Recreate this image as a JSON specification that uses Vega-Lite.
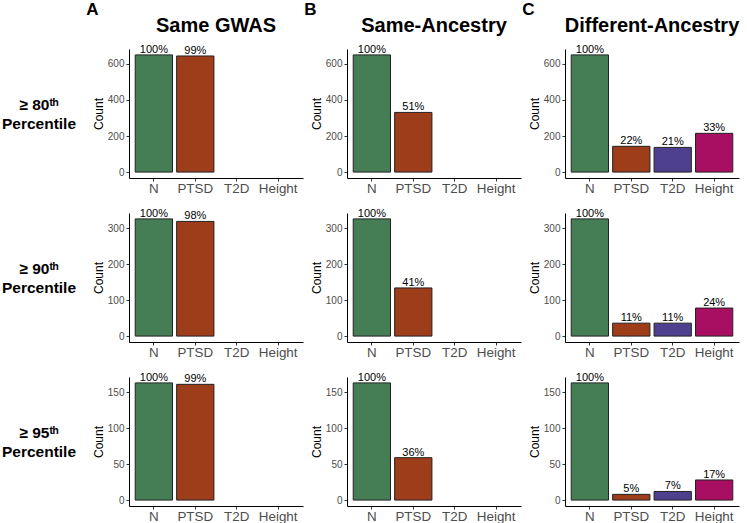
{
  "$schema": "https://vega.github.io/schema/vega-lite/v6.json",
  "padding": 0,
  "background": "white",
  "data": {"values": [
    {"row": "80", "col": "A", "trait": "N", "count": 650, "label": "100%"},
    {"row": "80", "col": "A", "trait": "PTSD", "count": 644, "label": "99%"},
    {"row": "80", "col": "B", "trait": "N", "count": 650, "label": "100%"},
    {"row": "80", "col": "B", "trait": "PTSD", "count": 331, "label": "51%"},
    {"row": "80", "col": "C", "trait": "N", "count": 650, "label": "100%"},
    {"row": "80", "col": "C", "trait": "PTSD", "count": 143, "label": "22%"},
    {"row": "80", "col": "C", "trait": "T2D", "count": 137, "label": "21%"},
    {"row": "80", "col": "C", "trait": "Height", "count": 215, "label": "33%"},
    {"row": "90", "col": "A", "trait": "N", "count": 326, "label": "100%"},
    {"row": "90", "col": "A", "trait": "PTSD", "count": 319, "label": "98%"},
    {"row": "90", "col": "B", "trait": "N", "count": 326, "label": "100%"},
    {"row": "90", "col": "B", "trait": "PTSD", "count": 134, "label": "41%"},
    {"row": "90", "col": "C", "trait": "N", "count": 326, "label": "100%"},
    {"row": "90", "col": "C", "trait": "PTSD", "count": 36, "label": "11%"},
    {"row": "90", "col": "C", "trait": "T2D", "count": 36, "label": "11%"},
    {"row": "90", "col": "C", "trait": "Height", "count": 78, "label": "24%"},
    {"row": "95", "col": "A", "trait": "N", "count": 163, "label": "100%"},
    {"row": "95", "col": "A", "trait": "PTSD", "count": 161, "label": "99%"},
    {"row": "95", "col": "B", "trait": "N", "count": 163, "label": "100%"},
    {"row": "95", "col": "B", "trait": "PTSD", "count": 59, "label": "36%"},
    {"row": "95", "col": "C", "trait": "N", "count": 163, "label": "100%"},
    {"row": "95", "col": "C", "trait": "PTSD", "count": 8, "label": "5%"},
    {"row": "95", "col": "C", "trait": "T2D", "count": 12, "label": "7%"},
    {"row": "95", "col": "C", "trait": "Height", "count": 28, "label": "17%"}
  ]},
  "resolve": {"scale": {"x": "independent", "y": "independent"}},
  "spacing": 8,
  "hconcat": [
    {
      "title": {"text": " ", "anchor": "start", "fontSize": 17, "fontWeight": "bold", "offset": -3},
      "spacing": 35,
      "vconcat": [
        {"title": {"text": " ", "fontSize": 20, "fontWeight": "bold", "offset": -4},
         "width": 78, "height": 129, "data": {"values": [{"t": "≥ 80ᵗʰ\nPercentile"}]},
         "mark": {"type": "text", "fontSize": 15.5, "fontWeight": "bold", "lineHeight": 19, "baseline": "middle", "lineBreak": "\n", "dy": -9, "color": "black"},
         "encoding": {"text": {"field": "t"}}},
        {"width": 78, "height": 129, "data": {"values": [{"t": "≥ 90ᵗʰ\nPercentile"}]},
         "mark": {"type": "text", "fontSize": 15.5, "fontWeight": "bold", "lineHeight": 19, "baseline": "middle", "lineBreak": "\n", "dy": -9, "color": "black"},
         "encoding": {"text": {"field": "t"}}},
        {"width": 78, "height": 129, "data": {"values": [{"t": "≥ 95ᵗʰ\nPercentile"}]},
         "mark": {"type": "text", "fontSize": 15.5, "fontWeight": "bold", "lineHeight": 19, "baseline": "middle", "lineBreak": "\n", "dy": -9, "color": "black"},
         "encoding": {"text": {"field": "t"}}}
      ]
    },
    {
      "spacing": 1,
      "resolve": {"scale": {"x": "independent", "y": "independent"}},
      "hconcat": [
        {
          "title": {"text": "A", "anchor": "start", "fontSize": 17, "fontWeight": "bold", "offset": -3, "dx": -6},
          "spacing": 12,
          "resolve": {"scale": {"x": "independent", "y": "independent"}},
          "vconcat": [
            {"title": {"text": "Same GWAS", "fontSize": 20, "fontWeight": "bold", "offset": 8, "frame": "group"},
             "width": 174, "height": 129,
             "transform": [{"filter": "datum.row == '80' && datum.col == 'A'"}],
             "encoding": {
               "x": {"field": "trait", "type": "nominal", "scale": {"domain": ["N", "PTSD", "T2D", "Height"], "paddingInner": 0.1, "paddingOuter": 0.15}, "axis": {"title": null, "labelAngle": 0}},
               "y": {"field": "count", "type": "quantitative", "scale": {"padding": 5.9, "nice": false, "zero": true}, "axis": {"title": "Count", "tickCount": 4}}
             },
             "layer": [
               {"mark": {"type": "bar", "stroke": "#222222", "strokeWidth": 1},
                "encoding": {"color": {"field": "trait", "type": "nominal", "scale": {"domain": ["N", "PTSD", "T2D", "Height"], "range": ["#457D54", "#9E3D1A", "#4E3F8F", "#A80E61"]}, "legend": null}}},
               {"mark": {"type": "text", "baseline": "alphabetic", "dy": -2, "fontSize": 11, "color": "black"},
                "encoding": {"text": {"field": "label"}}}
             ]},
            {"width": 174, "height": 129,
             "transform": [{"filter": "datum.row == '90' && datum.col == 'A'"}],
             "encoding": {
               "x": {"field": "trait", "type": "nominal", "scale": {"domain": ["N", "PTSD", "T2D", "Height"], "paddingInner": 0.1, "paddingOuter": 0.15}, "axis": {"title": null, "labelAngle": 0}},
               "y": {"field": "count", "type": "quantitative", "scale": {"padding": 5.9, "nice": false, "zero": true}, "axis": {"title": "Count", "tickCount": 4}}
             },
             "layer": [
               {"mark": {"type": "bar", "stroke": "#222222", "strokeWidth": 1},
                "encoding": {"color": {"field": "trait", "type": "nominal", "scale": {"domain": ["N", "PTSD", "T2D", "Height"], "range": ["#457D54", "#9E3D1A", "#4E3F8F", "#A80E61"]}, "legend": null}}},
               {"mark": {"type": "text", "baseline": "alphabetic", "dy": -2, "fontSize": 11, "color": "black"},
                "encoding": {"text": {"field": "label"}}}
             ]},
            {"width": 174, "height": 129,
             "transform": [{"filter": "datum.row == '95' && datum.col == 'A'"}],
             "encoding": {
               "x": {"field": "trait", "type": "nominal", "scale": {"domain": ["N", "PTSD", "T2D", "Height"], "paddingInner": 0.1, "paddingOuter": 0.15}, "axis": {"title": null, "labelAngle": 0}},
               "y": {"field": "count", "type": "quantitative", "scale": {"padding": 5.9, "nice": false, "zero": true}, "axis": {"title": "Count", "tickCount": 4}}
             },
             "layer": [
               {"mark": {"type": "bar", "stroke": "#222222", "strokeWidth": 1},
                "encoding": {"color": {"field": "trait", "type": "nominal", "scale": {"domain": ["N", "PTSD", "T2D", "Height"], "range": ["#457D54", "#9E3D1A", "#4E3F8F", "#A80E61"]}, "legend": null}}},
               {"mark": {"type": "text", "baseline": "alphabetic", "dy": -2, "fontSize": 11, "color": "black"},
                "encoding": {"text": {"field": "label"}}}
             ]}
          ]
        },
        {
          "title": {"text": "B", "anchor": "start", "fontSize": 17, "fontWeight": "bold", "offset": -3, "dx": -6},
          "spacing": 12,
          "resolve": {"scale": {"x": "independent", "y": "independent"}},
          "vconcat": [
            {"title": {"text": "Same-Ancestry", "fontSize": 20, "fontWeight": "bold", "offset": 8, "frame": "group"},
             "width": 174, "height": 129,
             "transform": [{"filter": "datum.row == '80' && datum.col == 'B'"}],
             "encoding": {
               "x": {"field": "trait", "type": "nominal", "scale": {"domain": ["N", "PTSD", "T2D", "Height"], "paddingInner": 0.1, "paddingOuter": 0.15}, "axis": {"title": null, "labelAngle": 0}},
               "y": {"field": "count", "type": "quantitative", "scale": {"padding": 5.9, "nice": false, "zero": true}, "axis": {"title": "Count", "tickCount": 4}}
             },
             "layer": [
               {"mark": {"type": "bar", "stroke": "#222222", "strokeWidth": 1},
                "encoding": {"color": {"field": "trait", "type": "nominal", "scale": {"domain": ["N", "PTSD", "T2D", "Height"], "range": ["#457D54", "#9E3D1A", "#4E3F8F", "#A80E61"]}, "legend": null}}},
               {"mark": {"type": "text", "baseline": "alphabetic", "dy": -2, "fontSize": 11, "color": "black"},
                "encoding": {"text": {"field": "label"}}}
             ]},
            {"width": 174, "height": 129,
             "transform": [{"filter": "datum.row == '90' && datum.col == 'B'"}],
             "encoding": {
               "x": {"field": "trait", "type": "nominal", "scale": {"domain": ["N", "PTSD", "T2D", "Height"], "paddingInner": 0.1, "paddingOuter": 0.15}, "axis": {"title": null, "labelAngle": 0}},
               "y": {"field": "count", "type": "quantitative", "scale": {"padding": 5.9, "nice": false, "zero": true}, "axis": {"title": "Count", "tickCount": 4}}
             },
             "layer": [
               {"mark": {"type": "bar", "stroke": "#222222", "strokeWidth": 1},
                "encoding": {"color": {"field": "trait", "type": "nominal", "scale": {"domain": ["N", "PTSD", "T2D", "Height"], "range": ["#457D54", "#9E3D1A", "#4E3F8F", "#A80E61"]}, "legend": null}}},
               {"mark": {"type": "text", "baseline": "alphabetic", "dy": -2, "fontSize": 11, "color": "black"},
                "encoding": {"text": {"field": "label"}}}
             ]},
            {"width": 174, "height": 129,
             "transform": [{"filter": "datum.row == '95' && datum.col == 'B'"}],
             "encoding": {
               "x": {"field": "trait", "type": "nominal", "scale": {"domain": ["N", "PTSD", "T2D", "Height"], "paddingInner": 0.1, "paddingOuter": 0.15}, "axis": {"title": null, "labelAngle": 0}},
               "y": {"field": "count", "type": "quantitative", "scale": {"padding": 5.9, "nice": false, "zero": true}, "axis": {"title": "Count", "tickCount": 4}}
             },
             "layer": [
               {"mark": {"type": "bar", "stroke": "#222222", "strokeWidth": 1},
                "encoding": {"color": {"field": "trait", "type": "nominal", "scale": {"domain": ["N", "PTSD", "T2D", "Height"], "range": ["#457D54", "#9E3D1A", "#4E3F8F", "#A80E61"]}, "legend": null}}},
               {"mark": {"type": "text", "baseline": "alphabetic", "dy": -2, "fontSize": 11, "color": "black"},
                "encoding": {"text": {"field": "label"}}}
             ]}
          ]
        },
        {
          "title": {"text": "C", "anchor": "start", "fontSize": 17, "fontWeight": "bold", "offset": -3, "dx": -6},
          "spacing": 12,
          "resolve": {"scale": {"x": "independent", "y": "independent"}},
          "vconcat": [
            {"title": {"text": "Different-Ancestry", "fontSize": 20, "fontWeight": "bold", "offset": 8, "frame": "group"},
             "width": 174, "height": 129,
             "transform": [{"filter": "datum.row == '80' && datum.col == 'C'"}],
             "encoding": {
               "x": {"field": "trait", "type": "nominal", "scale": {"domain": ["N", "PTSD", "T2D", "Height"], "paddingInner": 0.1, "paddingOuter": 0.15}, "axis": {"title": null, "labelAngle": 0}},
               "y": {"field": "count", "type": "quantitative", "scale": {"padding": 5.9, "nice": false, "zero": true}, "axis": {"title": "Count", "tickCount": 4}}
             },
             "layer": [
               {"mark": {"type": "bar", "stroke": "#222222", "strokeWidth": 1},
                "encoding": {"color": {"field": "trait", "type": "nominal", "scale": {"domain": ["N", "PTSD", "T2D", "Height"], "range": ["#457D54", "#9E3D1A", "#4E3F8F", "#A80E61"]}, "legend": null}}},
               {"mark": {"type": "text", "baseline": "alphabetic", "dy": -2, "fontSize": 11, "color": "black"},
                "encoding": {"text": {"field": "label"}}}
             ]},
            {"width": 174, "height": 129,
             "transform": [{"filter": "datum.row == '90' && datum.col == 'C'"}],
             "encoding": {
               "x": {"field": "trait", "type": "nominal", "scale": {"domain": ["N", "PTSD", "T2D", "Height"], "paddingInner": 0.1, "paddingOuter": 0.15}, "axis": {"title": null, "labelAngle": 0}},
               "y": {"field": "count", "type": "quantitative", "scale": {"padding": 5.9, "nice": false, "zero": true}, "axis": {"title": "Count", "tickCount": 4}}
             },
             "layer": [
               {"mark": {"type": "bar", "stroke": "#222222", "strokeWidth": 1},
                "encoding": {"color": {"field": "trait", "type": "nominal", "scale": {"domain": ["N", "PTSD", "T2D", "Height"], "range": ["#457D54", "#9E3D1A", "#4E3F8F", "#A80E61"]}, "legend": null}}},
               {"mark": {"type": "text", "baseline": "alphabetic", "dy": -2, "fontSize": 11, "color": "black"},
                "encoding": {"text": {"field": "label"}}}
             ]},
            {"width": 174, "height": 129,
             "transform": [{"filter": "datum.row == '95' && datum.col == 'C'"}],
             "encoding": {
               "x": {"field": "trait", "type": "nominal", "scale": {"domain": ["N", "PTSD", "T2D", "Height"], "paddingInner": 0.1, "paddingOuter": 0.15}, "axis": {"title": null, "labelAngle": 0}},
               "y": {"field": "count", "type": "quantitative", "scale": {"padding": 5.9, "nice": false, "zero": true}, "axis": {"title": "Count", "tickCount": 4}}
             },
             "layer": [
               {"mark": {"type": "bar", "stroke": "#222222", "strokeWidth": 1},
                "encoding": {"color": {"field": "trait", "type": "nominal", "scale": {"domain": ["N", "PTSD", "T2D", "Height"], "range": ["#457D54", "#9E3D1A", "#4E3F8F", "#A80E61"]}, "legend": null}}},
               {"mark": {"type": "text", "baseline": "alphabetic", "dy": -2, "fontSize": 11, "color": "black"},
                "encoding": {"text": {"field": "label"}}}
             ]}
          ]
        }
      ]
    }
  ],
  "config": {
    "font": "Liberation Sans",
    "view": {"stroke": null},
    "title": {"color": "black", "font": "Liberation Sans"},
    "axis": {"grid": false, "domainColor": "black", "domainWidth": 1, "tickColor": "#333333", "tickSize": 3, "labelColor": "#4D4D4D", "labelFontSize": 10, "titleFontSize": 12, "titleFontWeight": "normal", "titleColor": "black", "labelFont": "Liberation Sans", "titleFont": "Liberation Sans"},
    "axisX": {"labelFontSize": 13.4, "labelPadding": 0, "domain": true},
    "axisY": {"titlePadding": 2, "labelPadding": 2}
  }
}
